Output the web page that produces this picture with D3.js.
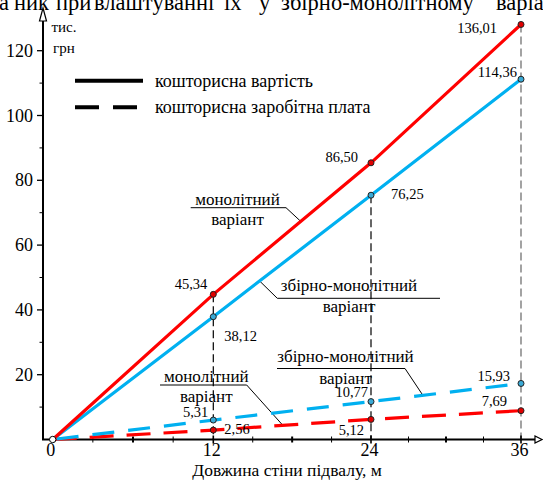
<!DOCTYPE html>
<html><head><meta charset="utf-8">
<script src="https://cdn.jsdelivr.net/npm/d3@7"></script>
<style>
html,body{margin:0;padding:0;background:#fff;}
svg{display:block;}
</style></head>
<body>
<svg id="chart" width="543" height="480"></svg>
<script>
// ---- data ----
const xValues = [0, 12, 24, 36];
const costMono = [0, 44.8, 85.4, 128.1];
const costPrecast = [0, 37.9, 75.4, 111.2];
const wageMono = [0, 2.9, 6.2, 8.9];
const wagePrecast = [0, 6.0, 11.7, 17.3];
const costMonoLabels = ["45,34", "86,50", "136,01"];
const costPrecastLabels = ["38,12", "76,25", "114,36"];
const wageMonoLabels = ["2,56", "5,12", "7,69"];
const wagePrecastLabels = ["5,31", "10,77", "15,93"];
const xTickValues = [0, 12, 24, 36];
const xMinorTicks = [3, 6, 9, 15, 18, 21, 27, 30, 33];
const yTickValues = [20, 40, 60, 80, 100, 120];
const yMinorTicks = [10, 30, 50, 70, 90, 110];
const legendLabels = ["кошторисна вартість", "кошторисна заробітна плата"];
const xTitle = "Довжина стіни підвалу, м";
const yUnits = ["тис.", "грн"];
const titleWords = ["а", "ник", "при", "влаштуванні", "їх", "у", "збірно-монолітному", "варіанті"];

// ---- layout ----
const FONT = "Liberation Serif";
const svg = d3.select("#chart");
const x = d3.scaleLinear().domain([0, 12, 24, 36]).range([52.7, 213.3, 371, 521]);
const y = d3.scaleLinear().domain([0, 120]).range([439.5, 50.7]);
const RED = "#ff0000", BLUE = "#00b0f0";
function txt(px, py, size, s, anchor) {
  return svg.append("text").attr("x", px).attr("y", py).attr("font-size", size)
    .style("font-family", FONT).attr("text-anchor", anchor || "start").attr("fill", "#000").text(s);
}

// clipped (justified) title line at the top edge
const titleX = [-1, 14, 56, 94, 224, 259, 281, 496];
const title = svg.append("text").attr("y", 9.5).attr("font-size", 22.5).style("font-family", FONT).attr("fill", "#000");
titleWords.forEach((w, i) => title.append("tspan").attr("x", titleX[i]).text(w));

// drop lines
const drops = [
  {i: 1, top: costMono[1], color: "#000"},
  {i: 2, top: costPrecast[2], color: "#000"},
  {i: 3, top: costMono[3], color: "#666"}
];
drops.forEach(d => {
  svg.append("line").attr("x1", x(xValues[d.i])).attr("x2", x(xValues[d.i]))
    .attr("y1", y(d.top)).attr("y2", y(0))
    .attr("stroke", d.color).attr("stroke-width", 1.2).attr("stroke-dasharray", "8,4");
});

// axes
svg.append("line").attr("x1", 43).attr("x2", 43).attr("y1", y(0)).attr("y2", 21)
  .attr("stroke", "#000").attr("stroke-width", 2);
svg.append("path").attr("d", "M43,8 L46.5,21 L39.5,21 Z").attr("fill", "#fff").attr("stroke", "#000").attr("stroke-width", 1.2);
svg.append("line").attr("x1", 42).attr("x2", 536).attr("y1", y(0)).attr("y2", y(0))
  .attr("stroke", "#000").attr("stroke-width", 2);
svg.append("path").attr("d", `M542,${y(0)} L535,${y(0)-3.5} L535,${y(0)+3.5} Z`).attr("fill", "#fff").attr("stroke", "#000").attr("stroke-width", 1.2);

// y ticks
yTickValues.forEach(v => {
  svg.append("line").attr("x1", 37).attr("x2", 43).attr("y1", y(v)).attr("y2", y(v)).attr("stroke", "#000").attr("stroke-width", 1.3);
  txt(33, y(v) + 6, 18, v, "end");
});
yMinorTicks.forEach(v => {
  svg.append("line").attr("x1", 39.5).attr("x2", 43).attr("y1", y(v)).attr("y2", y(v)).attr("stroke", "#000").attr("stroke-width", 1);
});
// x ticks
xTickValues.forEach(v => {
  if (v > 0) svg.append("line").attr("x1", x(v)).attr("x2", x(v)).attr("y1", y(0) - 4).attr("y2", y(0) + 4).attr("stroke", "#000").attr("stroke-width", 1.6);
  txt(x(v) - (v === 0 ? 2 : 1.5), 456, 18, v, "middle");
});
xMinorTicks.forEach(v => {
  const major = v % 6 === 0;
  svg.append("line").attr("x1", x(v)).attr("x2", x(v)).attr("y1", y(0) - 3).attr("y2", y(0) + 3)
    .attr("stroke", "#000").attr("stroke-width", major ? 2 : 1);
});
txt(287, 476, 17.5, xTitle, "middle");
txt(51.5, 31.5, 15, yUnits[0]);
txt(53, 53, 15, yUnits[1]);

// legend
svg.append("line").attr("x1", 75).attr("x2", 143).attr("y1", 80.7).attr("y2", 80.7).attr("stroke", "#000").attr("stroke-width", 4);
svg.append("line").attr("x1", 75).attr("x2", 139).attr("y1", 107.3).attr("y2", 107.3).attr("stroke", "#000").attr("stroke-width", 4).attr("stroke-dasharray", "24,14");
txt(155, 86.5, 18, legendLabels[0]);
txt(155, 113, 18, legendLabels[1]);

// annotations (leader lines + text)
function leader(pts) {
  svg.append("path").attr("d", d3.line()(pts)).attr("fill", "none").attr("stroke", "#000").attr("stroke-width", 1);
}
function label2(cx, y1, y2, t1, t2) {
  txt(cx, y1, 17, t1, "middle");
  txt(cx, y2, 17, t2, "middle");
}
leader([[190.7, 207.7], [286, 207.7], [300, 220.7]]);
label2(237.5, 205, 225, "монолітний", "варіант");
leader([[259.3, 280.7], [277.3, 298.3], [440, 298.3]]);
label2(349, 291, 311.7, "збірно-монолітний", "варіант");
leader([[277, 368.5], [405, 368.5], [423, 395.5]]);
label2(345.5, 362, 384, "збірно-монолітний", "варіант");
leader([[160, 385], [246.7, 385], [283, 425.5]]);
label2(206.3, 382, 401.5, "монолітний", "варіант");

// series lines
const line = d3.line().x((d, i) => x(xValues[i])).y(d => y(d));
svg.append("path").datum(wageMono).attr("d", line).attr("fill", "none").attr("stroke", RED).attr("stroke-width", 3.2).attr("stroke-dasharray", "24,13");
svg.append("path").datum(wagePrecast).attr("d", line).attr("fill", "none").attr("stroke", BLUE).attr("stroke-width", 3.2).attr("stroke-dasharray", "22,14").attr("stroke-dashoffset", -4);
svg.append("path").datum(costPrecast).attr("d", line).attr("fill", "none").attr("stroke", BLUE).attr("stroke-width", 3.2);
svg.append("path").datum(costMono).attr("d", line).attr("fill", "none").attr("stroke", RED).attr("stroke-width", 3.2);

// points + value labels
const series = [
  {vals: costMono, labels: costMonoLabels, fill: "#e00000", off: [[-6, -5, "end"], [-13, -1, "end"], [-24, 9, "end"]]},
  {vals: costPrecast, labels: costPrecastLabels, fill: "#3aaad6", off: [[11, 24, "start"], [20, 4, "start"], [-4, -2, "end"]]},
  {vals: wageMono, labels: wageMonoLabels, fill: "#e00000", off: [[11, 4, "start"], [-7, 16, "end"], [-14, -5, "end"]]},
  {vals: wagePrecast, labels: wagePrecastLabels, fill: "#3aaad6", off: [[-5, -3, "end"], [-3, -5, "end"], [-11, -2, "end"]]}
];
series.forEach(s => {
  s.vals.forEach((v, i) => {
    if (i === 0) return;
    svg.append("circle").attr("cx", x(xValues[i])).attr("cy", y(v)).attr("r", 3)
      .attr("fill", s.fill).attr("stroke", "#222").attr("stroke-width", 1);
    const o = s.off[i - 1];
    txt(x(xValues[i]) + o[0], y(v) + o[1], 14.5, s.labels[i - 1], o[2]);
  });
});
svg.append("circle").attr("cx", x(0)).attr("cy", y(0)).attr("r", 3.2).attr("fill", "#fff").attr("stroke", "#000").attr("stroke-width", 1);
</script>
</body></html>
